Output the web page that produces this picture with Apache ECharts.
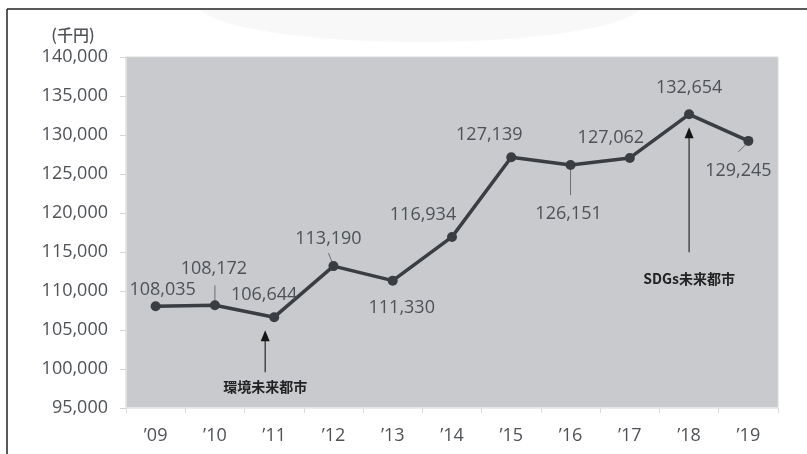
<!DOCTYPE html>
<html>
<head>
<meta charset="utf-8">
<script src="https://cdn.jsdelivr.net/npm/echarts@6/dist/echarts.min.js"></script>
<style>
  html, body { margin: 0; padding: 0; background: #ffffff; }
  #chart { width: 807px; height: 454px; }
</style>
</head>
<body>
<div id="chart"></div>
<script>
// Fiscal years and revenue (thousand yen)
const years = ['’09', '’10', '’11', '’12', '’13', '’14', '’15', '’16', '’17', '’18', '’19'];
const revenue = [108035, 108172, 106644, 113190, 111330, 116934, 127139, 126151, 127062, 132654, 129245];
const yMin = 95000;
const yMax = 140000;
const yStep = 5000;
const unitLabel = '(千円)';

// Milestone designations
const milestoneYears = ['’11', '’18'];
const milestoneNames = ['環境未来都市', 'SDGs未来都市'];

// ---- layout (pixels) ----
// value-label centre relative to its point
const labelOffsets = [[7, -16], [-1, -36], [-10, -22], [-5, -27], [9, 27], [-29, -22],
                      [-22, -22], [-2, 49], [-19, -20], [0, -26], [-10, 30]];
// short guide lines from a point towards its label: [index, x1, y1, x2, y2]
const leaderLines = [[1, 0, -3, 0, -20], [3, -1, -3, -5, -13], [7, 0, 3, 0, 30], [10, -3, 4, -10, 11]];
// milestone arrows: horizontal shift, gap below point to tip, to tail, text below tail
const milestoneLayout = [
  { dx: -9, tip: 13, tail: 55, text: 15 },
  { dx: 0, tip: 13, tail: 138, text: 26 }
];

const NUM_FONT = '"Open Sans", Lato, sans-serif';
const CJK_FONT = '"Noto Sans CJK JP", "Noto Sans", sans-serif';
const TEXT_GREY = '#4e5156';
const LINE_DARK = '#3a3d42';
const NUM_SIZE = 18;
const NUM_WEIGHT = 500;

const chart = echarts.init(document.getElementById('chart'), null, { renderer: 'canvas' });

const fmt = v => Number(v).toLocaleString('en-US');

chart.setOption({
  animation: false,
  backgroundColor: '#ffffff',
  graphic: [
    { type: 'ellipse', shape: { cx: 420, cy: 4, rx: 222, ry: 38 }, style: { fill: '#f8f8f8' }, z: -10 },
    { type: 'rect', shape: { x: 0, y: 0, width: 807, height: 9 }, style: { fill: '#ffffff' }, z: -9 },
    { type: 'line', shape: { x1: 7, y1: 9, x2: 807, y2: 9 }, style: { stroke: '#222222', lineWidth: 1.5 } },
    { type: 'line', shape: { x1: 7, y1: 9, x2: 7, y2: 454 }, style: { stroke: '#222222', lineWidth: 1.5 } },
    {
      type: 'text', x: 73, y: 35,
      style: { text: unitLabel, fill: TEXT_GREY, font: '500 16px ' + CJK_FONT, align: 'center', verticalAlign: 'middle' }
    }
  ],
  grid: {
    left: 126, right: 29, top: 57, bottom: 46,
    show: true, backgroundColor: '#c8cacd', borderColor: '#d6d7d9', borderWidth: 1
  },
  xAxis: {
    type: 'category',
    data: years,
    boundaryGap: true,
    axisLine: { show: true, lineStyle: { color: '#ececec', width: 1.5 } },
    axisTick: { show: true, length: 5, alignWithLabel: false, lineStyle: { color: '#dcdcdc' } },
    axisLabel: { color: TEXT_GREY, fontSize: NUM_SIZE, fontWeight: NUM_WEIGHT, fontFamily: NUM_FONT, margin: 19 },
    splitLine: { show: false }
  },
  yAxis: {
    type: 'value',
    min: yMin, max: yMax, interval: yStep,
    axisLine: { show: true, lineStyle: { color: '#e6e6e6', width: 1.5 } },
    axisTick: { show: true, length: 6, lineStyle: { color: '#d4d4d4' } },
    axisLabel: { color: TEXT_GREY, fontSize: NUM_SIZE, fontWeight: NUM_WEIGHT, fontFamily: NUM_FONT, margin: 18, formatter: fmt },
    splitLine: { show: false }
  },
  series: [
    {
      type: 'line',
      data: revenue.map((v, i) => ({ value: v, label: { offset: labelOffsets[i] } })),
      symbol: 'circle',
      symbolSize: 10,
      lineStyle: { color: LINE_DARK, width: 3.5 },
      itemStyle: { color: LINE_DARK },
      label: {
        show: true, position: 'inside',
        color: TEXT_GREY, fontSize: NUM_SIZE, fontWeight: NUM_WEIGHT, fontFamily: NUM_FONT,
        formatter: p => fmt(p.value)
      },
      z: 3
    },
    {
      type: 'custom',
      silent: true,
      data: leaderLines.map(l => [l[0], revenue[l[0]]]),
      renderItem: (params, api) => {
        const l = leaderLines[params.dataIndex];
        const p = api.coord([api.value(0), api.value(1)]);
        return {
          type: 'line',
          shape: { x1: p[0] + l[1], y1: p[1] + l[2], x2: p[0] + l[3], y2: p[1] + l[4] },
          style: { stroke: '#6b6e72', lineWidth: 1 }
        };
      },
      z: 2
    },
    {
      type: 'custom',
      silent: true,
      data: milestoneYears.map(y => [years.indexOf(y), revenue[years.indexOf(y)]]),
      renderItem: (params, api) => {
        const i = params.dataIndex;
        const L = milestoneLayout[i];
        const p = api.coord([api.value(0), api.value(1)]);
        const x = p[0] + L.dx;
        const tipY = p[1] + L.tip;
        const tailY = p[1] + L.tail;
        return {
          type: 'group',
          children: [
            { type: 'line', shape: { x1: x, y1: tailY, x2: x, y2: tipY + 8 }, style: { stroke: '#2a2a2a', lineWidth: 1.2 } },
            { type: 'polygon', shape: { points: [[x, tipY], [x - 4.5, tipY + 11], [x + 4.5, tipY + 11]] }, style: { fill: '#151515' } },
            {
              type: 'text', x: x, y: tailY + L.text,
              style: {
                text: milestoneNames[i], fill: '#222222',
                font: 'bold 14px ' + CJK_FONT, align: 'center', verticalAlign: 'middle'
              }
            }
          ]
        };
      },
      z: 4
    }
  ]
});
</script>
</body>
</html>
